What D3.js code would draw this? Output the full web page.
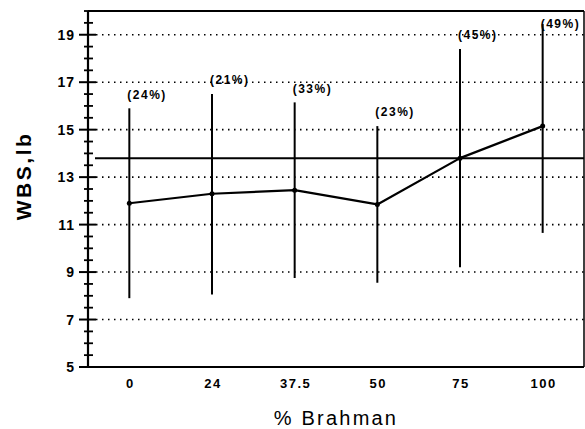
<!DOCTYPE html>
<html>
<head>
<meta charset="utf-8">
<script src="https://cdn.jsdelivr.net/npm/d3@7"></script>
<style>
  body { margin: 0; background: #fff; }
  text { font-family: "Liberation Sans", Arial, sans-serif; fill: #000; }
</style>
</head>
<body>
<svg id="chart"></svg>
<script>
// values
const breeds = ["0", "24", "37.5", "50", "75", "100"];
const means = [11.9, 12.3, 12.45, 11.85, 13.8, 15.15];
const lows = [7.9, 8.05, 8.75, 8.55, 9.2, 10.65];
const highs = [15.9, 16.5, 16.15, 15.15, 18.4, 19.45];
const cvLabels = ["(24%)", "(21%)", "(33%)", "(23%)", "(45%)", "(49%)"];
const yTicks = [5, 7, 9, 11, 13, 15, 17, 19];
const refLine = 13.8;

const w = 585;
const h = 429;
const margin = { top: 11, right: 1, bottom: 62, left: 88 };
const width = w - margin.left - margin.right;
const height = h - margin.top - margin.bottom;

let svg = d3.select("#chart").attr("width", w).attr("height", h);
let g = svg.append("g").attr("transform", `translate(${margin.left},${margin.top})`);

let x = d3.scalePoint().domain(breeds).range([0, width]).padding(0.5);
let y = d3.scaleLinear().domain([5, 20]).range([height, 0]);

// dotted grid
g.append("g")
  .selectAll("line")
  .data(yTicks.slice(1))
  .enter()
  .append("line")
  .attr("x1", 8)
  .attr("x2", width)
  .attr("y1", (d) => y(d))
  .attr("y2", (d) => y(d))
  .attr("stroke", "#000")
  .attr("stroke-width", 1.6)
  .attr("stroke-dasharray", "1.5,4.5");

// frame: top and right
g.append("line").attr("x1", 0).attr("x2", width).attr("y1", 0).attr("y2", 0)
  .attr("stroke", "#000").attr("stroke-width", 2.2);
g.append("line").attr("x1", width).attr("x2", width).attr("y1", 0).attr("y2", height)
  .attr("stroke", "#000").attr("stroke-width", 1.5);

// y axis with crossing ticks
const minor = d3.range(5, 20.01, 0.5).filter((v) => !yTicks.includes(v));
let ya = g.append("g");
ya.append("line").attr("x1", 0).attr("x2", 0).attr("y1", 0).attr("y2", height)
  .attr("stroke", "#000").attr("stroke-width", 2.2);
ya.selectAll(".minor")
  .data(minor)
  .enter()
  .append("line")
  .attr("x1", -4).attr("x2", 5)
  .attr("y1", (d) => y(d)).attr("y2", (d) => y(d))
  .attr("stroke", "#000").attr("stroke-width", 1.8);
ya.selectAll(".major")
  .data(yTicks)
  .enter()
  .append("line")
  .attr("x1", -9).attr("x2", 8)
  .attr("y1", (d) => y(d)).attr("y2", (d) => y(d))
  .attr("stroke", "#000").attr("stroke-width", 2);
ya.selectAll("text")
  .data(yTicks)
  .enter()
  .append("text")
  .attr("x", -13)
  .attr("y", (d) => y(d))
  .attr("dy", "0.36em")
  .attr("text-anchor", "end")
  .attr("font-size", 14)
  .attr("font-weight", "bold")
  .attr("letter-spacing", 1)
  .text((d) => d);

// x axis
g.append("line").attr("x1", 0).attr("x2", width).attr("y1", height).attr("y2", height)
  .attr("stroke", "#000").attr("stroke-width", 2.2);
g.append("g")
  .selectAll("text")
  .data(breeds)
  .enter()
  .append("text")
  .attr("x", (d) => x(d) + 1)
  .attr("y", height + 21)
  .attr("text-anchor", "middle")
  .attr("font-size", 13)
  .attr("font-weight", "bold")
  .attr("letter-spacing", 1.5)
  .text((d) => d);

// axis titles
svg.append("text")
  .attr("transform", `translate(31,${margin.top + y(13.05)}) rotate(-90)`)
  .attr("text-anchor", "middle")
  .attr("font-size", 21)
  .attr("font-weight", "bold")
  .attr("letter-spacing", 2.5)
  .text("WBS,lb");
svg.append("text")
  .attr("x", margin.left + width / 2)
  .attr("y", 425)
  .attr("text-anchor", "middle")
  .attr("font-size", 20)
  .attr("letter-spacing", 2.2)
  .text("% Brahman");

// reference line
g.append("line").attr("x1", 7).attr("x2", width)
  .attr("y1", y(refLine)).attr("y2", y(refLine))
  .attr("stroke", "#000").attr("stroke-width", 2);

// error bars
const rows = breeds.map((b, i) => ({ b, mean: means[i], lo: lows[i], hi: highs[i], label: cvLabels[i] }));
g.selectAll(".bar")
  .data(rows)
  .enter()
  .append("line")
  .attr("x1", (d) => x(d.b)).attr("x2", (d) => x(d.b))
  .attr("y1", (d) => y(d.lo)).attr("y2", (d) => y(d.hi))
  .attr("stroke", "#000").attr("stroke-width", 2);

// mean line
let line = d3.line().x((d) => x(d.b)).y((d) => y(d.mean));
g.append("path")
  .datum(rows)
  .attr("fill", "none")
  .attr("stroke", "#000")
  .attr("stroke-width", 2.2)
  .attr("stroke-linejoin", "round")
  .attr("d", line);
g.selectAll(".pt")
  .data(rows)
  .enter()
  .append("circle")
  .attr("cx", (d) => x(d.b)).attr("cy", (d) => y(d.mean))
  .attr("r", 2.5);

// CV labels
g.selectAll(".lbl")
  .data(rows)
  .enter()
  .append("text")
  .attr("x", (d) => x(d.b) - 2)
  .attr("y", (d) => Math.max(y(d.hi) - 14, 13))
  .attr("dy", "0.36em")
  .attr("font-size", 12)
  .attr("font-weight", "bold")
  .attr("letter-spacing", 1.5)
  .text((d) => d.label);
</script>
</body>
</html>
